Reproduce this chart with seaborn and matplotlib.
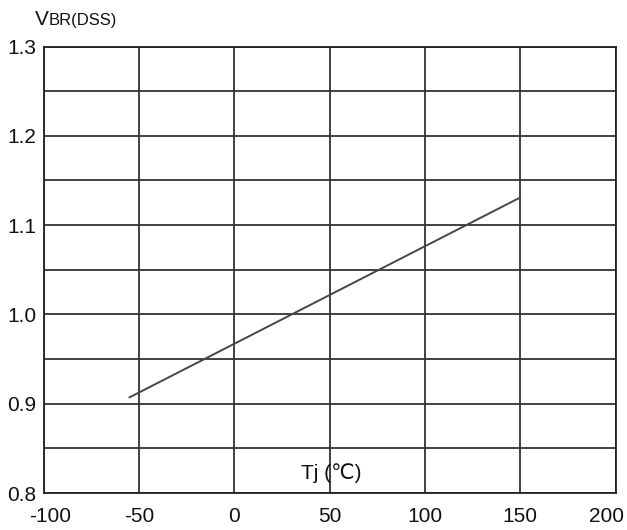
import matplotlib
matplotlib.use('Agg')
import matplotlib.pyplot as plt
import matplotlib.transforms as mtransforms
import seaborn as sns
import pandas as pd
import numpy as np

# data: normalized breakdown voltage vs junction temperature
tj = [-55, 150]
vbr = [0.907, 1.131]
x_ticks = [-100, -50, 0, 50, 100, 150, 200]
y_ticks = [0.8, 0.9, 1.0, 1.1, 1.2, 1.3]

df = pd.DataFrame({'Tj': tj, 'VBR': vbr})

sns.set_style('white')
plt.rcParams['font.family'] = ['Liberation Sans', 'DejaVu Sans']

fig = plt.figure(figsize=(6.27, 5.30), dpi=100)
ax = fig.add_axes([0.0694, 0.0698, 0.9126, 0.8424])

sns.lineplot(data=df, x='Tj', y='VBR', ax=ax, color='#45454f', linewidth=1.4)

ax.set_xlim(-100, 200)
ax.set_ylim(0.8, 1.3)
ax.set_xticks(x_ticks)
ax.set_xticklabels([str(v) for v in x_ticks])
ax.set_yticks(y_ticks)
ax.set_yticklabels(['%.1f' % v for v in y_ticks])
ax.set_yticks(np.arange(0.85, 1.3, 0.1), minor=True)
ax.grid(True, which='both', color='#333333', linewidth=1.3)
ax.set_axisbelow(True)
ax.tick_params(axis='both', which='both', length=0, labelsize=15, colors='#111111')
ax.tick_params(axis='x', pad=10)
ax.tick_params(axis='y', pad=5)
for s in ax.spines.values():
    s.set_color('#222222')
    s.set_linewidth(1.3)
ax.set_xlabel('')
ax.set_ylabel('')

# end labels pulled inward like the original
labels = ax.get_xticklabels()
labels[0].set_transform(labels[0].get_transform() +
                        mtransforms.ScaledTranslation(7 / 100, 0, fig.dpi_scale_trans))
labels[-1].set_transform(labels[-1].get_transform() +
                         mtransforms.ScaledTranslation(-9 / 100, 0, fig.dpi_scale_trans))

# axis titles
ax.text(0.502, 0.045, 'Tj (\u2103)', transform=ax.transAxes, ha='center', va='center',
        fontsize=15, color='#111111')
fig.text(0.056, 0.953, 'V', fontsize=15, color='#111111', ha='left', va='baseline')
fig.text(0.077, 0.953, 'BR(DSS)', fontsize=12, color='#111111', ha='left', va='baseline')

fig.savefig('out.png', dpi=100)
